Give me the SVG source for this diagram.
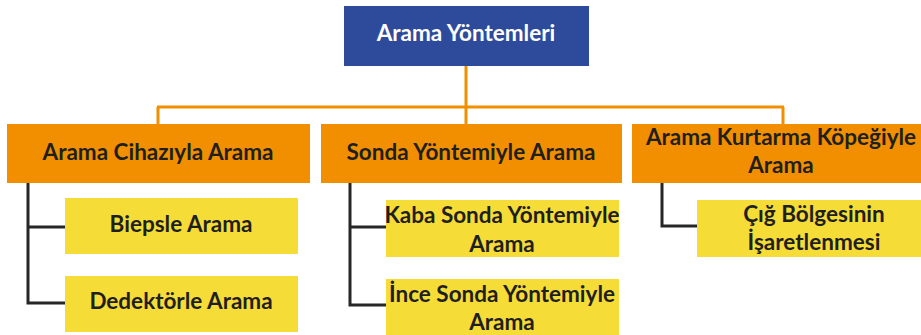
<svg xmlns="http://www.w3.org/2000/svg" width="921" height="335" viewBox="0 0 921 335">
<style>
.root{fill:#2E4B9B}
.l2{fill:#F18F00}
.l3{fill:#F6DC37}
text{font-family:Lato,"Open Sans","Liberation Sans",sans-serif;font-weight:bold;font-size:22.5px;text-anchor:middle}
.w{fill:#FFFFFF}
.d{fill:#1F1F1F}
.oc{stroke:#F18F00;stroke-width:3;fill:none}
.bc{stroke:#262626;stroke-width:3;fill:none}
</style>
<rect width="921" height="335" fill="#FFFFFF"/>
<g id="connectors">
<path class="oc" d="M466,66V107M157,107H784M158,107V124M466,107V124M783,107V124"/>
<path class="bc" d="M28,183V303H65M28,227H65"/>
<path class="bc" d="M350,183V305H386M350,227H386"/>
<path class="bc" d="M662,183V226H697"/>
</g>
<g id="n-root"><rect class="root" x="344" y="6" width="245" height="60"/><text class="w" x="466" y="41">Arama Yöntemleri</text></g>
<g id="n-cihaz"><rect class="l2" x="7" y="124" width="303" height="59"/><text class="d" x="158" y="160">Arama Cihazıyla Arama</text></g>
<g id="n-sonda"><rect class="l2" x="321" y="124" width="301" height="59"/><text class="d" x="471" y="160">Sonda Yöntemiyle Arama</text></g>
<g id="n-kopek"><rect class="l2" x="632" y="124" width="303" height="59"/><text class="d" x="781" y="145">Arama Kurtarma Köpeğiyle</text><text class="d" x="781" y="173">Arama</text></g>
<g id="n-biepsle"><rect class="l3" x="65" y="198" width="233" height="56"/><text class="d" x="181" y="232">Biepsle Arama</text></g>
<g id="n-dedektor"><rect class="l3" x="65" y="276" width="233" height="56"/><text class="d" x="181" y="309">Dedektörle Arama</text></g>
<g id="n-kaba"><rect class="l3" x="386" y="200" width="233" height="57"/><text class="d" x="502" y="223">Kaba Sonda Yöntemiyle</text><text class="d" x="502" y="252">Arama</text></g>
<g id="n-ince"><rect class="l3" x="386" y="279" width="233" height="60"/><text class="d" x="502" y="302">İnce Sonda Yöntemiyle</text><text class="d" x="502" y="330">Arama</text></g>
<g id="n-cig"><rect class="l3" x="697" y="200" width="233" height="57"/><text class="d" x="814" y="222">Çığ Bölgesinin</text><text class="d" x="814" y="250">İşaretlenmesi</text></g>
</svg>
